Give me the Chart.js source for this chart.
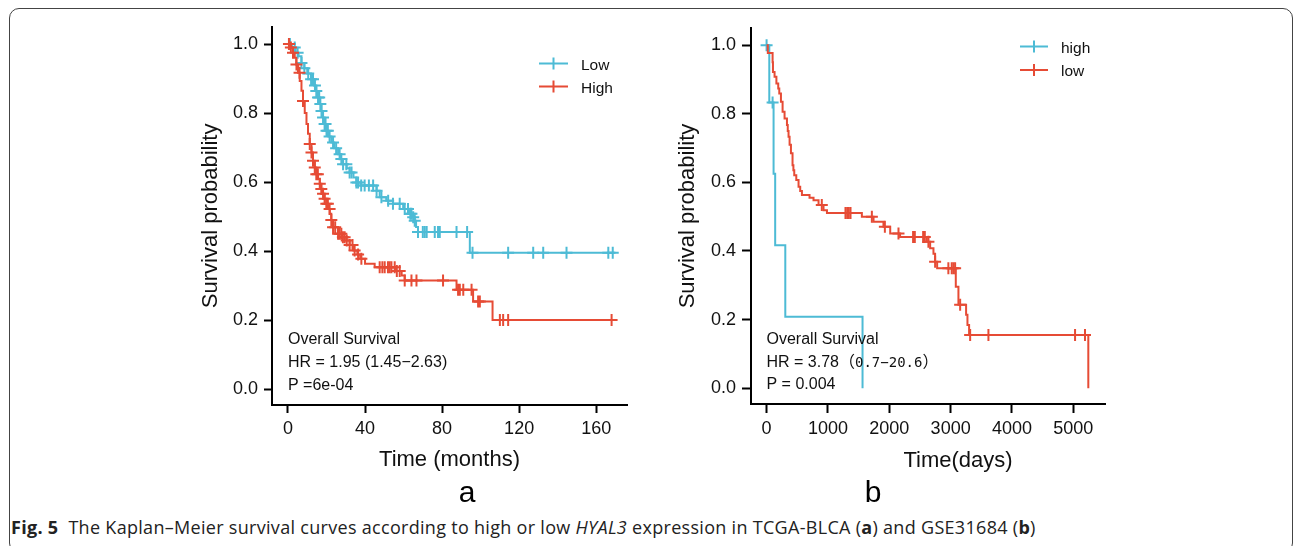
<!DOCTYPE html>
<html>
<head>
<meta charset="utf-8">
<script src="https://cdn.jsdelivr.net/npm/chart.js@4.4.1/dist/chart.umd.min.js"></script>
<style>
  html, body { margin: 0; padding: 0; background: #fff; }
  body { width: 1295px; height: 546px; position: relative; overflow: hidden; }
  #frame { position: absolute; left: 9px; top: 8px; width: 1284px; height: 545px; border: 1px solid #444; border-radius: 10px; box-sizing: border-box; }
  .panel { position: absolute; top: 10px; width: 490px; height: 470px; }
  #panelA { left: 150px; }
  #panelB { left: 640px; }
  .letter { position: absolute; top: 477px; line-height: 30px; font-family: "Liberation Sans", Arial, sans-serif; font-size: 30px; color: #000; transform: translateX(-50%); }
  #caption { position: absolute; left: 11px; top: 515px; line-height: 24px; font-family: "Open Sans", "Noto Sans", sans-serif; font-size: 18px; letter-spacing: 0.3px; color: #222; white-space: nowrap; }
</style>
</head>
<body>
<div id="frame"></div>
<canvas id="panelA" class="panel" width="490" height="470"></canvas>
<canvas id="panelB" class="panel" width="490" height="470"></canvas>
<div class="letter" style="left:467px">a</div>
<div class="letter" style="left:873px">b</div>
<div id="caption"><b>Fig. 5</b>&nbsp; The Kaplan–Meier survival curves according to high or low <i>HYAL3</i> expression in TCGA-BLCA (<b>a</b>) and GSE31684 (<b>b</b>)</div>
<script>
// ---- panel a: TCGA-BLCA, months ----
const monthTicks = [0, 40, 80, 120, 160];
const probTicks = [0, 0.2, 0.4, 0.6, 0.8, 1.0];
const groupsA = ['Low', 'High'];

// [time, survival] after each drop
const lowSteps = [[0,1.0],[2,0.99],[4,0.975],[5.5,0.965],[7,0.945],[8.5,0.93],[10,0.915],[12,0.898],[13.5,0.88],
  [14.7,0.864],[15.6,0.845],[16.5,0.826],[17.3,0.806],[18.2,0.787],[19,0.768],[19.9,0.749],[21,0.732],[22.5,0.715],
  [24,0.698],[26,0.681],[27.5,0.667],[28.6,0.652],[30.5,0.64],[32,0.628],[34,0.613],[35.5,0.599],[38,0.59],[46,0.575],
  [47.6,0.556],[51,0.546],[54.5,0.537],[59.8,0.522],[63.2,0.508],[64.5,0.498],[65.8,0.488],[66.5,0.47],[67.5,0.455],
  [94.4,0.395],[170,0.395]];
const lowCensor = [1,3.5,5,7,8.5,10.5,12,13,14,14.7,15.6,16.2,16.8,17.4,18.2,19,19.5,20,20.7,21.6,23.4,25,26.8,27.7,
  28.6,30.3,32,33,35.5,36.4,38,39.8,42,44.2,46,48.5,52,54.5,58,60.6,62.3,63.5,64.1,65,65.8,67.5,70,71,72,76.2,77.9,
  78.8,87.5,93,95.8,114.3,127.3,132.5,144.6,166.3,168.6];

const highSteps = [[0,1.0],[1.5,0.99],[2.6,0.975],[3.5,0.96],[4.3,0.941],[5.2,0.917],[6.1,0.893],[7,0.865],[7.8,0.835],
  [8.7,0.8],[9.6,0.768],[10.4,0.74],[11.3,0.71],[12.2,0.686],[13,0.662],[13.9,0.642],[14.7,0.623],[15.6,0.609],
  [16.5,0.595],[17.3,0.58],[18.2,0.566],[19,0.552],[19.9,0.537],[20.8,0.522],[21.7,0.508],[22.5,0.49],[23.4,0.469],
  [26,0.45],[28,0.44],[30.3,0.431],[32,0.418],[34,0.402],[36,0.39],[37.5,0.378],[40,0.363],[45,0.353],[56,0.342],
  [59,0.329],[60.6,0.315],[87.5,0.288],[96.1,0.254],[106.2,0.2],[170,0.2]];
const highCensor = [0.5,1.5,2.6,4.4,6,7.8,11.3,12.2,13,13.9,14.7,15.5,16.5,17.3,18.2,19,19.9,20.7,21.6,22.5,23.4,24.5,
  26,26.8,27.7,28.5,29.4,30.5,32,33.5,34.6,36.4,38.1,47.6,49,50.2,51.9,52.8,53.7,55.4,56.5,58,60.6,64.1,66.7,80.5,
  88.3,89.2,91,95.3,98.7,99.6,110,111.7,114.3,168];

const notesA = ['Overall Survival', 'HR = 1.95 (1.45\u22122.63)', 'P =6e-04'];

// ---- panel b: GSE31684, days ----
const dayTicks = [0, 1000, 2000, 3000, 4000, 5000];
const groupsB = ['high', 'low'];

const gseHighSteps = [[0,1.0],[44,0.833],[114,0.625],[140,0.417],[305,0.208],[1564,0]];
const gseHighCensor = [0, 98];

const gseLowSteps = [[0,1.0],[20,0.977],[98,0.95],[104,0.922],[130,0.908],[160,0.888],[190,0.874],[207,0.859],
  [234,0.835],[261,0.806],[293,0.786],[332,0.767],[345,0.75],[358,0.733],[375,0.71],[397,0.685],[423,0.65],[437,0.635],
  [451,0.621],[484,0.607],[521,0.587],[548,0.575],[576,0.563],[700,0.555],[765,0.548],[847,0.534],[928,0.519],
  [984,0.511],[1553,0.5],[1743,0.485],[1905,0.471],[2015,0.451],[2176,0.441],[2612,0.427],[2666,0.408],[2720,0.392],
  [2747,0.369],[2780,0.35],[3084,0.296],[3127,0.243],[3252,0.214],[3274,0.184],[3301,0.155],[5244,0]];
const gseLowCensor = [900,1286,1314,1340,1368,1716,1928,2150,2388,2416,2552,2579,2638,2747,2963,3018,3046,3073,
  3155,3318,3616,5028,5190];

const notesB = ['Overall Survival', [['HR = 3.78', 'sans'], ['\uFF08', 'cjk'], ['0.7\u221220.6', 'mono'], ['\uFF09', 'cjk']], 'P = 0.004'];

const BLUE = '#4DBBD5', RED = '#E64B35';
const SANS = '"Liberation Sans", Arial, Helvetica, sans-serif';
const FONTS = { sans: '16px ' + SANS, cjk: '16px "Noto Sans CJK SC", sans-serif', mono: '14px "DejaVu Sans Mono", monospace' };

Chart.defaults.font.family = SANS;
Chart.defaults.color = '#111';

function survAt(steps, t) {
  let s = steps[0][1];
  for (const p of steps) { if (p[0] <= t) s = p[1]; else break; }
  return s;
}

function curve(steps, censor, color) {
  return [
    { type: 'line', data: steps.map(p => ({x: p[0], y: p[1]})), stepped: 'before',
      borderColor: color, borderWidth: 2, pointRadius: 0, fill: false },
    { type: 'scatter', data: censor.map(t => ({x: t, y: survAt(steps, t)})), pointStyle: 'cross',
      pointRadius: 6, borderColor: color, backgroundColor: color, borderWidth: 2 }
  ];
}

function extras(o) {
  return {
    id: 'extras',
    afterDraw(chart) {
      const ctx = chart.ctx;
      ctx.save();
      ctx.textBaseline = 'alphabetic';
      o.legend.forEach(it => {
        ctx.strokeStyle = it.color; ctx.lineWidth = 2;
        ctx.beginPath();
        ctx.moveTo(o.lx0, it.y); ctx.lineTo(o.lx1, it.y);
        const cx = (o.lx0 + o.lx1) / 2;
        ctx.moveTo(cx, it.y - 6); ctx.lineTo(cx, it.y + 6);
        ctx.stroke();
        ctx.fillStyle = '#111'; ctx.font = '15.5px ' + SANS; ctx.textAlign = 'left';
        ctx.fillText(it.label, o.tx, it.y + 6);
      });
      o.notes.forEach((line, i) => {
        let x = o.nx;
        const y = o.ny[i];
        const parts = typeof line === 'string' ? [[line, 'sans']] : line;
        ctx.fillStyle = '#111'; ctx.textAlign = 'left';
        parts.forEach(p => { ctx.font = FONTS[p[1]]; ctx.fillText(p[0], x, y); x += ctx.measureText(p[0]).width; });
      });
      if (o.xTitle) {
        ctx.font = '22px ' + SANS; ctx.textAlign = 'center'; ctx.textBaseline = 'middle';
        ctx.fillText(o.xTitle.text, o.xTitle.x, o.xTitle.y);
      }
      ctx.restore();
    }
  };
}

function kmChart(id, o) {
  return new Chart(document.getElementById(id), {
    data: { datasets: o.datasets },
    options: {
      responsive: false, animation: false, events: [],
      layout: { padding: o.pad },
      plugins: { legend: { display: false }, tooltip: { enabled: false } },
      scales: {
        x: {
          type: 'linear', min: o.xMin, max: o.xMax,
          afterFit: s => { s.height = o.xH; },
          afterBuildTicks: s => { s.ticks = o.xTicks.map(v => ({value: v})); },
          grid: { display: true, drawOnChartArea: false, drawTicks: true, tickLength: o.tick, tickWidth: 2, tickColor: '#000' },
          border: { display: true, color: '#000', width: 2 },
          ticks: { font: { size: 18 }, padding: 5, color: '#111', maxRotation: 0, autoSkip: false, callback: v => String(v) },
          title: o.xTitle ? { display: true, text: o.xTitle, font: { size: 22, lineHeight: 1 }, padding: { top: 0, bottom: 4 }, color: '#111' } : { display: false }
        },
        y: {
          type: 'linear', min: -0.046, max: 1.05,
          afterFit: s => { s.width = o.yW; },
          afterBuildTicks: s => { s.ticks = probTicks.map(v => ({value: v})); },
          grid: { display: true, drawOnChartArea: false, drawTicks: true, tickLength: o.tick, tickWidth: 2, tickColor: '#000' },
          border: { display: true, color: '#000', width: 2 },
          ticks: { font: { size: 18 }, padding: 6, color: '#111', callback: v => v.toFixed(1) },
          title: { display: true, text: 'Survival probability', font: { size: 22, lineHeight: 1 }, padding: { top: o.yTitlePad, bottom: 0 }, color: '#111' }
        }
      }
    },
    plugins: [o.extras]
  });
}

kmChart('panelA', {
  datasets: curve(highSteps, highCensor, RED).concat(curve(lowSteps, lowCensor, BLUE)),
  pad: { left: 0, right: 13, top: 15, bottom: 5 },
  xMin: -8.3, xMax: 176, xTicks: monthTicks, xH: 70, yW: 122, tick: 8, yTitlePad: 50,
  xTitle: 'Time (months)',
  extras: extras({
    lx0: 389, lx1: 418, tx: 431,
    legend: [{ label: groupsA[0], color: BLUE, y: 53.5 }, { label: groupsA[1], color: RED, y: 76.5 }],
    nx: 138, ny: [333.5, 356.5, 379.5], notes: notesA
  })
});

kmChart('panelB', {
  datasets: curve(gseLowSteps, gseLowCensor, RED).concat(curve(gseHighSteps, gseHighCensor, BLUE)),
  pad: { left: 0, right: 25, top: 18, bottom: 6 },
  xMin: -254, xMax: 5516, xTicks: dayTicks, xH: 70, yW: 111, tick: 9, yTitlePad: 37,
  xTitle: null,
  extras: extras({
    lx0: 380, lx1: 408, tx: 421,
    legend: [{ label: groupsB[0], color: BLUE, y: 36.5 }, { label: groupsB[1], color: RED, y: 60 }],
    nx: 126.5, ny: [334.3, 357.3, 379.3], notes: notesB,
    xTitle: { text: 'Time(days)', x: 318, y: 451 }
  })
});
</script>
</body>
</html>
